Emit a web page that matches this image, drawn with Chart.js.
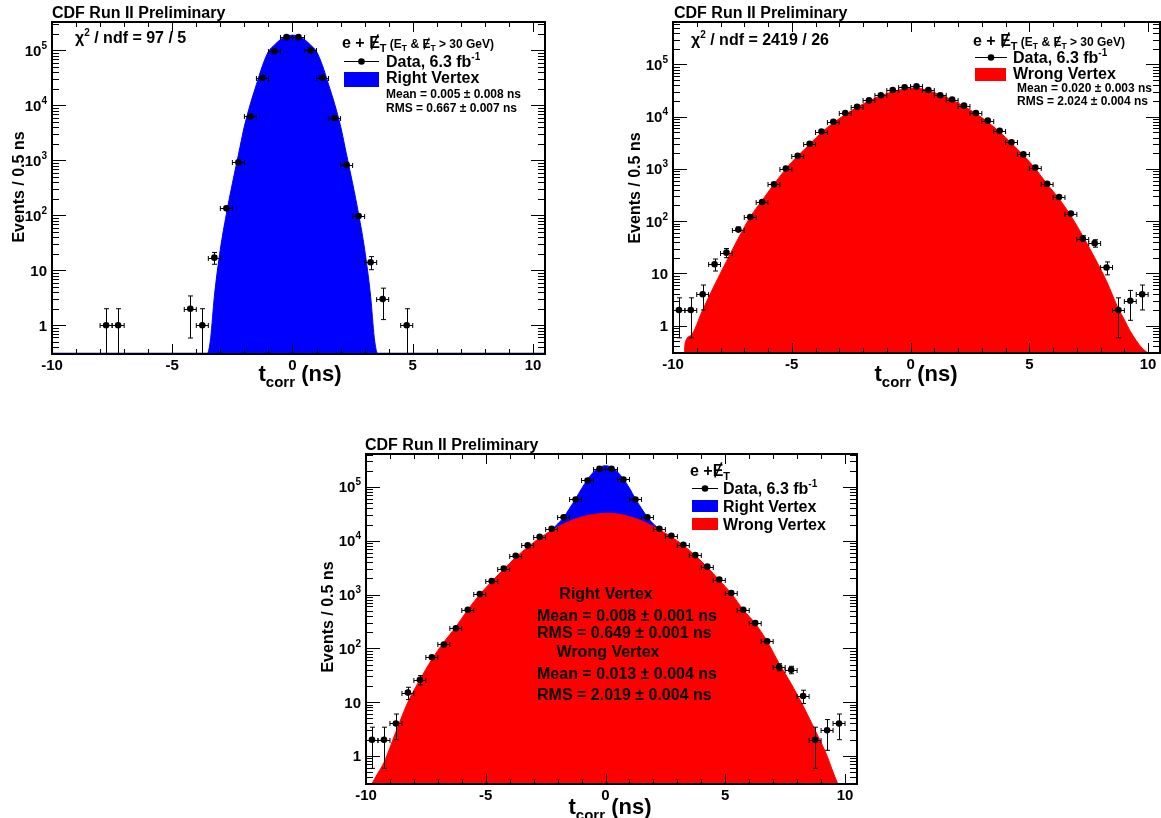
<!DOCTYPE html>
<html lang="en">
  <head>
    <meta charset="UTF-8" />
    <title>CDF Run II Preliminary - t_corr</title>
    <style>
      html, body { margin: 0; padding: 0; background: #fff; overflow: hidden; }
      body { width: 1161px; height: 818px; position: relative; }
      canvas { position: absolute; }
      #rvCanvas { left: 0; top: 0; }
      #wvCanvas { left: 600px; top: 0; }
      #allCanvas { left: 300px; top: 430px; }
    </style>
  </head>
  <body>
    <canvas id="rvCanvas" width="560" height="400"></canvas>
    <canvas id="wvCanvas" width="564" height="400"></canvas>
    <canvas id="allCanvas" width="570" height="388"></canvas>

    <script src="https://cdn.jsdelivr.net/npm/chart.js@4.4.1/dist/chart.umd.min.js"></script>
    <script>
        // ---- data (bin width 0.5 ns) ----
        let binHalf = 0.25;

        let xTickValues = [-10, -5, 0, 5, 10];
        let decadeValues = [1, 10, 100, 1000, 10000, 100000];
        // [mantissa, exponent] for the log axis labels
        let decadeLabels = [['1', ''], ['10', ''], ['10', '2'], ['10', '3'], ['10', '4'], ['10', '5']];

        // top left: right vertex sample
        let rvTime   = [-7.75, -7.25, -4.25, -3.75, -3.25, -2.75, -2.25, -1.75, -1.25, -0.75, -0.25, 0.25, 0.75, 1.25, 1.75, 2.25, 2.75, 3.25, 3.75, 4.75];
        let rvEvents = [1, 1, 2, 1, 17, 134, 920, 6300, 32000, 97000, 175000, 175000, 100000, 32000, 5900, 830, 97, 14, 3, 1];
        let rvFitTime   = [-10, -3.55, -3.5, -3.4, -3.25, -3, -2.75, -2.5, -2.25, -2, -1.75, -1.5, -1.25, -1, -0.75, -0.5, -0.25, 0, 0.25, 0.5, 0.75, 1, 1.25, 1.5, 1.75, 2, 2.25, 2.5, 2.75, 3, 3.25, 3.4, 3.5, 3.55, 10.5];
        let rvFitEvents = [0.31, 0.31, 0.33, 0.6, 3.3, 24, 105, 380, 1260, 4170, 10700, 24000, 52500, 95500, 126000, 158000, 182000, 190000, 182000, 158000, 126000, 95500, 52500, 24000, 10700, 4170, 1260, 380, 105, 24, 3.3, 0.6, 0.33, 0.31, 0.31];

        // top right: wrong vertex sample
        let wvTime   = [-9.75, -9.25, -8.75, -8.25, -7.75, -7.25, -6.75, -6.25, -5.75, -5.25, -4.75, -4.25, -3.75, -3.25, -2.75, -2.25, -1.75, -1.25, -0.75, -0.25,
                        0.25, 0.75, 1.25, 1.75, 2.25, 2.75, 3.25, 3.75, 4.25, 4.75, 5.25, 5.75, 6.25, 6.75, 7.25, 7.75, 8.25, 8.75, 9.25, 9.75];
        let wvEvents = [2, 2, 4, 15, 25, 69, 120, 233, 510, 1020, 1780, 3030, 5200, 8000, 11800, 15500, 20500, 25700, 32500, 36600,
                        38000, 32500, 25700, 21300, 16300, 11800, 8400, 5400, 3250, 1900, 1060, 520, 290, 140, 46, 38, 13, 2, 3, 4];
        let wvFitTime   = [-9.52, -9.5, -9.25, -8.75, -8.25, -7.75, -7.25, -6.75, -6.25, -5.75, -5.25, -4.75, -4.25, -3.75, -3.25, -2.75, -2.25, -1.75, -1.25, -0.75, -0.25,
                           0.1, 0.5, 0.75, 1.25, 1.75, 2.25, 2.75, 3.25, 3.75, 4.25, 4.75, 5.25, 5.75, 6.25, 6.75, 7.25, 7.75, 8.25, 8.75, 9, 9.25, 9.5, 9.75, 10];
        let wvFitEvents = [0.3, 0.44, 0.65, 2, 6, 17, 47, 120, 250, 510, 1000, 1780, 2950, 5000, 7600, 11000, 15100, 20000, 25100, 30200, 33900,
                           35500, 33900, 31600, 26300, 20900, 15800, 11500, 7900, 5100, 3100, 1820, 1020, 510, 270, 126, 52, 20, 7.1, 2.1, 1.3, 0.78, 0.52, 0.37, 0.3];

        // bottom: both samples together
        let allTime   = wvTime;
        let allEvents = [2, 2, 4, 15, 26, 68, 118, 236, 520, 1020, 1790, 3040, 5250, 8200, 11800, 16700, 27300, 58600, 132000, 217000,
                         217000, 138000, 58600, 27300, 16700, 12400, 8400, 5400, 3300, 1900, 1070, 520, 294, 135, 45, 40, 13, 2, 3, 4];
        let allWvFitTime   = [-9.76, -9.5, -9.25, -8.75, -8.25, -7.75, -7.25, -6.75, -6.25, -5.75, -5.25, -4.75, -4.25, -3.75, -3.25, -2.75, -2.25, -1.75, -1.25, -0.75, -0.25,
                              0.1, 0.5, 0.75, 1.25, 1.75, 2.25, 2.75, 3.25, 3.75, 4.25, 4.75, 5.25, 5.75, 6.25, 6.75, 7.25, 7.75, 8.25, 8.75, 9.25, 9.5, 9.7];
        let allWvFitEvents = [0.3, 0.48, 0.75, 2.8, 10, 26, 62, 130, 250, 520, 1000, 1750, 2950, 4900, 7600, 11200, 15500, 20500, 25500, 29500, 31800,
                              32500, 31500, 30000, 26000, 21000, 16000, 11800, 8200, 5300, 3200, 1850, 1050, 520, 290, 135, 52, 22, 8.5, 3, 1, 0.5, 0.3];
        let allRvFitTime   = [-2.5, -2.25, -2, -1.75, -1.5, -1.25, -1, -0.75, -0.5, -0.25, 0, 0.25, 0.5, 0.75, 1, 1.25, 1.5, 1.75, 2, 2.25, 2.5];
        let allRvFitEvents = [13000, 16000, 20500, 27000, 40000, 60000, 93000, 138000, 190000, 232000, 248000, 232000, 190000, 140000, 95000, 60000, 40000, 27500, 20500, 16500, 13000];

        // ---- drawing helpers ----
        const FONT = '"Liberation Sans", Arial, Helvetica, sans-serif';
        const tickFont = { family: 'Liberation Sans', size: 15, weight: 'bold' };

        function points(xs, ys) {
            return xs.map((v, i) => ({ x: v, y: ys[i] }));
        }

        // parts: [text, size, dy, slashed]
        function richText(ctx, x, y, parts, align) {
            let widths = parts.map(p => { ctx.font = 'bold ' + p[1] + 'px ' + FONT; return ctx.measureText(p[0]).width; });
            let total = widths.reduce((a, b) => a + b, 0);
            let cx = align === 'center' ? x - total / 2 : (align === 'right' ? x - total : x);
            parts.forEach((p, i) => {
                ctx.font = 'bold ' + p[1] + 'px ' + FONT;
                ctx.fillText(p[0], cx, y + (p[2] || 0));
                if (p[3]) {
                    ctx.beginPath();
                    ctx.lineWidth = p[1] > 13 ? 1.5 : 1.1;
                    ctx.moveTo(cx + widths[i] * 0.2, y + 1.5);
                    ctx.lineTo(cx + widths[i] * 0.85, y - p[1] * 0.85);
                    ctx.stroke();
                }
                cx += widths[i];
            });
        }

        function drawErrors(chart) {
            const { ctx, chartArea: a, scales: { x, y } } = chart;
            ctx.save();
            ctx.beginPath();
            ctx.rect(a.left, a.top, a.right - a.left, a.bottom - a.top);
            ctx.clip();
            ctx.strokeStyle = '#000';
            ctx.lineWidth = 1;
            chart.data.datasets.filter(d => d.errorBars).forEach(d => {
                d.data.forEach(p => {
                    const px = Math.round(x.getPixelForValue(p.x)) + 0.5;
                    const py = Math.round(y.getPixelForValue(p.y)) + 0.5;
                    const xl = x.getPixelForValue(p.x - binHalf), xr = x.getPixelForValue(p.x + binHalf);
                    const err = Math.sqrt(p.y);
                    const yt = y.getPixelForValue(p.y + err);
                    const hasLow = p.y - err > 0;
                    const yb = hasLow ? y.getPixelForValue(p.y - err) : a.bottom + 4;
                    ctx.beginPath();
                    ctx.moveTo(xl, py); ctx.lineTo(xr, py);
                    ctx.moveTo(xl, py - 2.5); ctx.lineTo(xl, py + 2.5);
                    ctx.moveTo(xr, py - 2.5); ctx.lineTo(xr, py + 2.5);
                    if (yt < py - 3) {
                        ctx.moveTo(px, py); ctx.lineTo(px, yt);
                        ctx.moveTo(px - 2.5, yt); ctx.lineTo(px + 2.5, yt);
                    }
                    if (yb > py + 3) {
                        ctx.moveTo(px, py); ctx.lineTo(px, yb);
                        if (hasLow) { ctx.moveTo(px - 2.5, yb); ctx.lineTo(px + 2.5, yb); }
                    }
                    ctx.stroke();
                });
            });
            ctx.restore();
        }

        function drawFrame(chart) {
            const { ctx, chartArea: a, scales: { x, y } } = chart;
            ctx.save();
            ctx.strokeStyle = '#000';
            ctx.lineWidth = 1;
            ctx.beginPath();
            for (let v = Math.ceil(x.min); v <= x.max; v++) {
                const px = Math.round(x.getPixelForValue(v)) + 0.5;
                const len = v % 5 === 0 ? 10 : 5;
                ctx.moveTo(px, a.bottom); ctx.lineTo(px, a.bottom - len);
                ctx.moveTo(px, a.top); ctx.lineTo(px, a.top + len);
            }
            for (let e = Math.floor(Math.log10(y.min)); e <= Math.log10(y.max); e++) {
                for (let m = 1; m < 10; m++) {
                    const v = m * Math.pow(10, e);
                    if (v < y.min || v > y.max) continue;
                    const py = Math.round(y.getPixelForValue(v)) + 0.5;
                    const len = m === 1 ? 14 : 7;
                    ctx.moveTo(a.left, py); ctx.lineTo(a.left + len, py);
                    ctx.moveTo(a.right, py); ctx.lineTo(a.right - len, py);
                }
            }
            ctx.stroke();
            ctx.lineWidth = 2;
            ctx.strokeRect(a.left, a.top, a.right - a.left, a.bottom - a.top);
            ctx.restore();
        }

        // log axis labels with raised exponents, placed by the y scale
        function drawYLabels(chart) {
            const { ctx, chartArea: a, scales: { y } } = chart;
            ctx.save();
            ctx.fillStyle = '#000';
            decadeValues.forEach((v, i) => {
                if (v < y.min || v > y.max) return;
                const py = y.getPixelForValue(v);
                const lab = decadeLabels[i];
                const parts = [[lab[0], 15]];
                if (lab[1]) parts.push([lab[1], 10, -7]);
                richText(ctx, a.left - 5, py + 5.5, parts, 'right');
            });
            ctx.restore();
        }

        function drawTexts(chart, o) {
            const ctx = chart.ctx;
            ctx.save();
            ctx.fillStyle = '#000';
            ctx.strokeStyle = '#000';
            ctx.textBaseline = 'alphabetic';
            (o.legend || []).forEach(l => {
                if (l.type === 'marker') {
                    ctx.beginPath();
                    ctx.lineWidth = 1;
                    ctx.moveTo(l.x1, l.y + 0.5); ctx.lineTo(l.x2, l.y + 0.5);
                    ctx.stroke();
                    ctx.beginPath();
                    ctx.arc((l.x1 + l.x2) / 2, l.y + 0.5, 3.3, 0, Math.PI * 2);
                    ctx.fill();
                } else {
                    ctx.fillStyle = l.color;
                    ctx.fillRect(l.x1, l.y1, l.x2 - l.x1, l.y2 - l.y1);
                    ctx.fillStyle = '#000';
                }
            });
            (o.texts || []).forEach(t => richText(ctx, t.x, t.y, t.parts, t.align));
            if (o.yTitle) {
                ctx.save();
                ctx.translate(o.yTitle.x, o.yTitle.y);
                ctx.rotate(-Math.PI / 2);
                richText(ctx, 0, 5.5, [['Events / 0.5 ns', 16]], 'center');
                ctx.restore();
            }
            if (o.xTitle) {
                richText(ctx, o.xTitle.x, o.xTitle.y, [['t', 22], ['corr', 15, 6], [' (ns)', 22]], 'center');
            }
            ctx.restore();
        }

        const rootStyle = {
            id: 'rootStyle',
            afterDatasetsDraw(chart) {
                drawErrors(chart);
                drawFrame(chart);
            },
            afterDraw(chart, args, opts) {
                drawYLabels(chart);
                drawTexts(chart, opts);
            }
        };

        function makeScales(yMax) {
            return {
                x: {
                    type: 'linear', min: -10, max: 10.5,
                    afterBuildTicks: s => { s.ticks = xTickValues.map(v => ({ value: v })); },
                    afterFit: s => { s.height = 30; s.paddingLeft = 0; s.paddingRight = 0; },
                    grid: { display: false, drawTicks: false }, border: { display: false },
                    ticks: { color: '#000', font: tickFont, padding: 3, maxRotation: 0, autoSkip: false, callback: v => String(v) }
                },
                y: {
                    type: 'logarithmic', min: 0.3, max: yMax,
                    afterBuildTicks: s => { s.ticks = decadeValues.map(v => ({ value: v })); },
                    afterFit: s => { s.width = 40; s.paddingTop = 0; s.paddingBottom = 0; },
                    grid: { display: false, drawTicks: false }, border: { display: false },
                    ticks: { display: false }
                }
            };
        }

        function dataSet(xs, ys) {
            return { label: 'Data, 6.3 fb-1', data: points(xs, ys), errorBars: true, order: 0,
                     pointRadius: 3.3, pointBackgroundColor: '#000', pointBorderWidth: 0, showLine: false };
        }

        function fitSet(label, xs, ys, color, order) {
            return { label: label, data: points(xs, ys), order: order, showLine: true, fill: 'start',
                     backgroundColor: color, borderColor: color, borderWidth: 1, pointRadius: 0,
                     cubicInterpolationMode: 'monotone' };
        }

        function makeChart(id, datasets, yMax, padding, style) {
            return new Chart(document.getElementById(id).getContext('2d'), {
                type: 'scatter',
                data: { datasets: datasets },
                options: {
                    responsive: false, animation: false, devicePixelRatio: 1,
                    layout: { padding: padding },
                    scales: makeScales(yMax),
                    plugins: { legend: { display: false }, tooltip: { enabled: false }, rootStyle: style }
                },
                plugins: [rootStyle]
            });
        }

        const metBig = [['e + ', 16], ['E', 16, 0, true], ['T', 11, 4]];
        const metCut = [[' (E', 12], ['T', 8.5, 3], [' & ', 12], ['E', 12, 0, true], ['T', 8.5, 3], [' > 30 GeV)', 12]];
        const lumi = [['Data, 6.3 fb', 16], ['-1', 10, -7]];
        const cdf = [['CDF Run II Preliminary', 16]];

        makeChart('rvCanvas',
            [dataSet(rvTime, rvEvents), fitSet('Right Vertex', rvFitTime, rvFitEvents, '#0000ff', 1)],
            3.3e5, { left: 12, top: 22, right: 15, bottom: 16 },
            {
                texts: [
                    { x: 52, y: 18, parts: cdf },
                    { x: 75, y: 43, parts: [['\u03C7', 16], ['2', 10, -7], [' / ndf = 97 / 5', 16]] },
                    { x: 342, y: 48, parts: metBig.concat(metCut) },
                    { x: 386, y: 67, parts: lumi },
                    { x: 386, y: 83, parts: [['Right Vertex', 16]] },
                    { x: 386, y: 97.5, parts: [['Mean = 0.005 \u00B1 0.008 ns', 12]] },
                    { x: 386, y: 111.5, parts: [['RMS = 0.667 \u00B1 0.007 ns', 12]] }
                ],
                legend: [
                    { type: 'marker', x1: 344, x2: 379, y: 61 },
                    { type: 'box', x1: 344, x2: 379, y1: 72, y2: 87, color: '#0000ff' }
                ],
                yTitle: { x: 18, y: 187 },
                xTitle: { x: 300, y: 381 }
            });

        makeChart('wvCanvas',
            [dataSet(wvTime, wvEvents), fitSet('Wrong Vertex', wvFitTime, wvFitEvents, '#ff0000', 1)],
            6.5e5, { left: 33, top: 22, right: 2, bottom: 17 },
            {
                texts: [
                    { x: 74, y: 18, parts: cdf },
                    { x: 91, y: 45, parts: [['\u03C7', 16], ['2', 10, -7], [' / ndf = 2419 / 26', 16]] },
                    { x: 373, y: 46, parts: metBig.concat(metCut) },
                    { x: 413, y: 63, parts: lumi },
                    { x: 413, y: 79, parts: [['Wrong Vertex', 16]] },
                    { x: 417, y: 92, parts: [['Mean = 0.020 \u00B1 0.003 ns', 12]] },
                    { x: 417, y: 105, parts: [['RMS = 2.024 \u00B1 0.004 ns', 12]] }
                ],
                legend: [
                    { type: 'marker', x1: 375, x2: 407, y: 57 },
                    { type: 'box', x1: 375, x2: 406, y1: 68, y2: 81, color: '#ff0000' }
                ],
                yTitle: { x: 34, y: 188 },
                xTitle: { x: 316, y: 381 }
            });

        makeChart('allCanvas',
            [dataSet(allTime, allEvents),
             fitSet('Wrong Vertex', allWvFitTime, allWvFitEvents, '#ff0000', 1),
             fitSet('Right Vertex', allRvFitTime, allRvFitEvents, '#0000ff', 2)],
            4.1e5, { left: 26, top: 24, right: 13, bottom: 4 },
            {
                texts: [
                    { x: 65, y: 20, parts: cdf },
                    { x: 390, y: 46, parts: [['e +', 16], ['E', 16, 0, true], ['T', 11, 4]] },
                    { x: 423, y: 64, parts: lumi },
                    { x: 423, y: 82, parts: [['Right Vertex', 16]] },
                    { x: 423, y: 100, parts: [['Wrong Vertex', 16]] },
                    { x: 306, y: 169, parts: [['Right Vertex', 16]], align: 'center' },
                    { x: 237, y: 191, parts: [['Mean = 0.008 \u00B1 0.001 ns', 16]] },
                    { x: 237, y: 208, parts: [['RMS = 0.649 \u00B1 0.001 ns', 16]] },
                    { x: 308, y: 227, parts: [['Wrong Vertex', 16]], align: 'center' },
                    { x: 237, y: 249, parts: [['Mean = 0.013 \u00B1 0.004 ns', 16]] },
                    { x: 237, y: 270, parts: [['RMS = 2.019 \u00B1 0.004 ns', 16]] }
                ],
                legend: [
                    { type: 'marker', x1: 392, x2: 418, y: 58 },
                    { type: 'box', x1: 392, x2: 418, y1: 70, y2: 82, color: '#0000ff' },
                    { type: 'box', x1: 392, x2: 418, y1: 88, y2: 100, color: '#ff0000' }
                ],
                yTitle: { x: 27, y: 187 },
                xTitle: { x: 310, y: 384 }
            });
    </script>
  </body>
</html>
